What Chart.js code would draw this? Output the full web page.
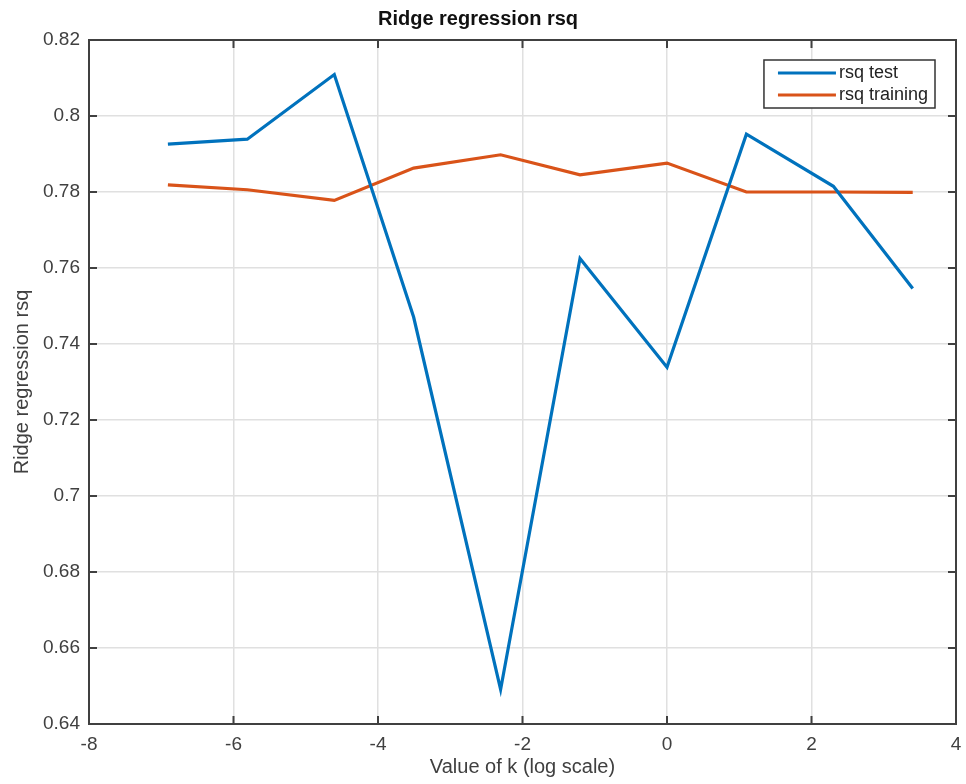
<!DOCTYPE html>
<html>
<head>
<meta charset="utf-8">
<script src="https://cdn.jsdelivr.net/npm/chart.js@4/dist/chart.umd.min.js"></script>
<style>
  html, body { margin: 0; padding: 0; background: #fff; }
  #wrap { width: 966px; height: 784px; }
</style>
</head>
<body>
<div id="wrap"><canvas id="rsqChart" width="966" height="784"></canvas></div>
<script>
// log(k) values on the x axis
const kLog = [-6.908, -5.809, -4.605, -3.507, -2.303, -1.204, 0, 1.099, 2.303, 3.401];
const rsqTest = [0.7926, 0.7939, 0.8109, 0.7471, 0.6491, 0.7625, 0.7339, 0.7952, 0.7815, 0.7546];
const rsqTraining = [0.7819, 0.7806, 0.7778, 0.7863, 0.7898, 0.7845, 0.7876, 0.7800, 0.7800, 0.7799];
const xTicks = [-8, -6, -4, -2, 0, 2, 4];
const yTicks = [0.64, 0.66, 0.68, 0.7, 0.72, 0.74, 0.76, 0.78, 0.8, 0.82];

const FONT = "'Liberation Sans', Arial, Helvetica, sans-serif";
const AXIS_COLOR = "#404040";

function toPoints(xs, ys) {
  return xs.map((x, i) => ({ x: x, y: ys[i] }));
}

// box around the axes + inward ticks on all four sides (matlab style)
const boxPlugin = {
  id: "boxPlugin",
  afterDatasetsDraw(chart) {
    const { ctx, chartArea: a, scales } = chart;
    const len = 8;
    ctx.save();
    ctx.strokeStyle = AXIS_COLOR;
    ctx.lineWidth = 2;
    ctx.beginPath();
    xTicks.forEach((v) => {
      const px = scales.x.getPixelForValue(v);
      ctx.moveTo(px, a.bottom);
      ctx.lineTo(px, a.bottom - len);
      ctx.moveTo(px, a.top);
      ctx.lineTo(px, a.top + len);
    });
    yTicks.forEach((v) => {
      const py = scales.y.getPixelForValue(v);
      ctx.moveTo(a.left, py);
      ctx.lineTo(a.left + len, py);
      ctx.moveTo(a.right, py);
      ctx.lineTo(a.right - len, py);
    });
    ctx.stroke();
    ctx.strokeRect(a.left, a.top, a.right - a.left, a.bottom - a.top);
    ctx.restore();
  },
  afterDraw(chart) {
    // legend inside the axes, top right
    const { ctx, chartArea: a } = chart;
    const sets = chart.data.datasets;
    ctx.save();
    ctx.font = "18px " + FONT;
    const textW = Math.max(...sets.map((d) => ctx.measureText(d.label).width));
    const boxW = 14 + 58 + 4 + textW + 6;
    const boxH = 48;
    const bx = a.right - 21 - boxW;
    const by = a.top + 20;
    ctx.fillStyle = "#fff";
    ctx.fillRect(bx, by, boxW, boxH);
    ctx.strokeStyle = "#333";
    ctx.lineWidth = 1.5;
    ctx.strokeRect(bx, by, boxW, boxH);
    sets.forEach((d, i) => {
      const y = by + 13 + i * 22;
      ctx.strokeStyle = d.borderColor;
      ctx.lineWidth = 3;
      ctx.beginPath();
      ctx.moveTo(bx + 14, y);
      ctx.lineTo(bx + 72, y);
      ctx.stroke();
      ctx.fillStyle = "#222";
      ctx.textBaseline = "middle";
      ctx.fillText(d.label, bx + 75, y);
    });
    ctx.restore();
  },
};

const ctx = document.getElementById("rsqChart").getContext("2d");
new Chart(ctx, {
  type: "scatter",
  data: {
    datasets: [
      {
        label: "rsq test",
        data: toPoints(kLog, rsqTest),
        showLine: true,
        borderColor: "#0072BD",
        backgroundColor: "#0072BD",
        borderWidth: 3.2,
        pointRadius: 0,
        tension: 0,
      },
      {
        label: "rsq training",
        data: toPoints(kLog, rsqTraining),
        showLine: true,
        borderColor: "#D95319",
        backgroundColor: "#D95319",
        borderWidth: 3.2,
        pointRadius: 0,
        tension: 0,
      },
    ],
  },
  options: {
    responsive: false,
    animation: false,
    layout: { padding: { left: 0, right: 10, top: 0, bottom: 0 } },
    plugins: {
      legend: { display: false },
      tooltip: { enabled: false },
      title: {
        display: true,
        text: "Ridge regression rsq",
        color: "#111",
        font: { family: FONT, size: 20, weight: "bold" },
        padding: { top: 7, bottom: 9 },
      },
    },
    scales: {
      x: {
        type: "linear",
        min: -8,
        max: 4,
        afterBuildTicks: (s) => { s.ticks = xTicks.map((v) => ({ value: v })); },
        afterFit: (s) => { s.height = 60; s.paddingLeft = 0; s.paddingRight = 0; },
        border: { display: false },
        grid: { color: "#e0e0e0", lineWidth: 1.5, drawTicks: false },
        ticks: {
          color: AXIS_COLOR,
          padding: 9,
          maxRotation: 0,
          font: { family: FONT, size: 19 },
        },
        title: {
          display: true,
          text: "Value of k (log scale)",
          color: AXIS_COLOR,
          font: { family: FONT, size: 20 },
          padding: { top: 0, bottom: 5 },
        },
      },
      y: {
        type: "linear",
        min: 0.64,
        max: 0.82,
        afterBuildTicks: (s) => { s.ticks = yTicks.map((v) => ({ value: v })); },
        afterFit: (s) => { s.width = 89; },
        border: { display: false },
        grid: { color: "#e0e0e0", lineWidth: 1.5, drawTicks: false },
        ticks: {
          color: AXIS_COLOR,
          padding: 9,
          font: { family: FONT, size: 19 },
          callback: (v) => String(Number(v.toFixed(2))),
        },
        title: {
          display: true,
          text: "Ridge regression rsq",
          color: AXIS_COLOR,
          font: { family: FONT, size: 20 },
          padding: { top: 10, bottom: 0 },
        },
      },
    },
  },
  plugins: [boxPlugin],
});
</script>
</body>
</html>
